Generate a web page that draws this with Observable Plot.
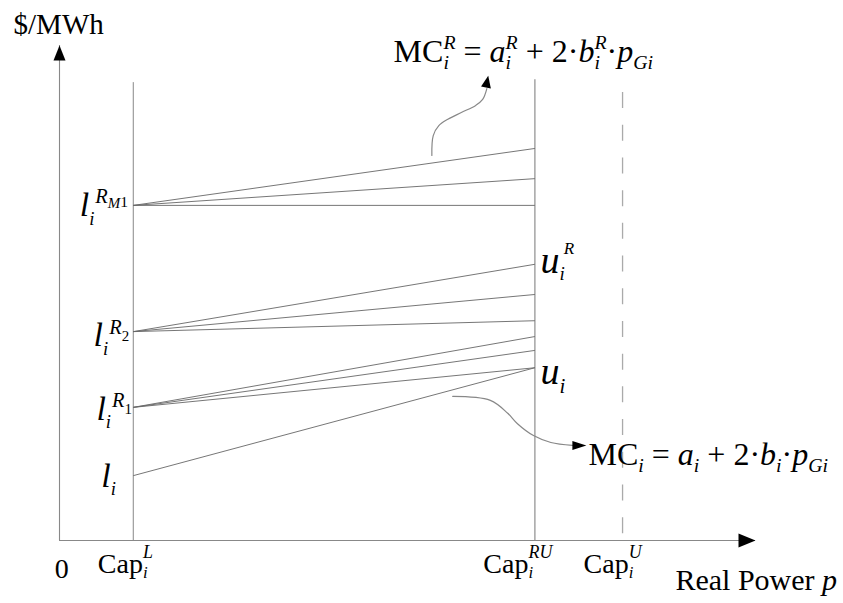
<!DOCTYPE html>
<html><head><meta charset="utf-8">
<script src="https://cdn.jsdelivr.net/npm/d3@7"></script>
<script src="https://cdn.jsdelivr.net/npm/@observablehq/plot@0.6"></script>
<style>body{margin:0;background:#fff} svg{display:block}</style>
</head><body><div id="chart"></div>
<script>
// x: real power (schematic units 0..100 along the axis), y: $/MWh (0..100)
const capKeys = ["capL", "capRU", "capU"];
const capX = [10.6, 68.3, 80.9];
const capTop = [92.5, 93.1, 90.5];

// offer segments from Cap^L to Cap^RU
const segStartY = [67.7, 67.7, 67.7, 42.2, 42.2, 42.2, 26.9, 26.9, 26.9, 13.1];
const segEndY   = [79.2, 73.1, 67.7, 55.8, 49.7, 44.4, 41.2, 38.4, 34.9, 34.9];

// annotation curves
const upperCurveX = [53.5, 53.7, 54.5, 55.8, 57.8, 59.8, 60.8, 61.4];
const upperCurveY = [77.8, 81.8, 83.8, 85.1, 86.5, 87.9, 89.1, 91.3];
const upperTip = {x: 61.6, y: 93.9};
const lowerCurveX = [56.5, 61.9, 64.4, 65.8, 68.1, 70.6, 73.7];
const lowerCurveY = [29.1, 28.3, 25.7, 23.6, 21.2, 19.8, 19.2];
const lowerTip = {x: 75.7, y: 19.2};

// text labels (baseline-left anchors)
const labelKeys = ["ylab", "xlab", "zero", "capL", "capRU", "capU", "lRM1", "lR2", "lR1", "li", "uR", "ui", "MCR", "MC"];
const labelX = [-6.6, 88.5, -0.7, 5.5, 60.9, 75.3, 2.9, 4.9, 5.3, 6.0, 69.1, 69.1, 48.0, 76.0];
const labelY = [102.4, -10.1, -7.5, -6.5, -6.5, -6.5, 65.5, 39.2, 24.4, 10.9, 54.1, 31.7, 96.6, 15.2];

const NB = "\u00A0";
const sub = (t, sz = .62, sh = .22) => ({t, it: 1, sz, sh});
const sup = (t, sz = .62, sh = -.42) => ({t, it: 1, sz, sh, back: 1});
const supSeq = (t, sz, sh) => ({t, it: 1, sz, sh, dx: 1});
const formulas = {
  ylab: {size: 29, pieces: [{t: "$/MWh"}]},
  xlab: {size: 30, pieces: [{t: "Real Power" + NB}, {t: "p", it: 1}]},
  zero: {size: 28, pieces: [{t: "0"}]},
  capL: {size: 28, pieces: [{t: "Cap"}, sub("i", .6, .2), sup("L", .64, -.52)]},
  capRU: {size: 28, pieces: [{t: "Cap"}, sub("i", .6, .2), sup("RU", .64, -.52)]},
  capU: {size: 28, pieces: [{t: "Cap"}, sub("i", .6, .2), sup("U", .64, -.52)]},
  lRM1: {size: 34, pieces: [{t: "l", it: 1}, sub("i", .55, .25), supSeq("R", .6, -.38), {t: "M", it: 1, sz: .44, sh: -.24}, {t: "1", sz: .46, sh: -.28}]},
  lR2: {size: 34, pieces: [{t: "l", it: 1}, sub("i", .55, .25), supSeq("R", .6, -.38), {t: "2", sz: .44, sh: -.16}]},
  lR1: {size: 34, pieces: [{t: "l", it: 1}, sub("i", .55, .25), supSeq("R", .6, -.38), {t: "1", sz: .44, sh: -.16}]},
  li: {size: 34, pieces: [{t: "l", it: 1}, sub("i", .55, .25)]},
  uR: {size: 38, pieces: [{t: "u", it: 1}, sub("i", .5, .2), {t: "R", it: 1, sz: .45, sh: -.5, dx: -1}]},
  ui: {size: 38, pieces: [{t: "u", it: 1}, sub("i", .55, .25)]},
  MCR: {size: 32, pieces: [{t: "MC"}, sub("i"), sup("R"), {t: NB + "=" + NB}, {t: "a", it: 1}, sub("i"), sup("R"),
        {t: NB + "+" + NB + "2·"}, {t: "b", it: 1}, sub("i"), sup("R"), {t: "·"}, {t: "p", it: 1}, sub("Gi")]},
  MC: {size: 32, pieces: [{t: "MC"}, sub("i"), {t: NB + "=" + NB}, {t: "a", it: 1}, sub("i"),
        {t: NB + "+" + NB + "2·"}, {t: "b", it: 1}, sub("i"), {t: "·"}, {t: "p", it: 1}, sub("Gi")]}
};

function head(angle, len, hw) {
  const a = angle * Math.PI / 180, c = Math.cos(a), s = Math.sin(a);
  return {draw(ctx) {
    const bx = -len * c, by = -len * s;
    ctx.moveTo(0, 0);
    ctx.lineTo(bx - hw * s, by + hw * c);
    ctx.lineTo(bx + hw * s, by - hw * c);
    ctx.closePath();
  }};
}

const segs = segStartY.map((y1, i) => ({x1: capX[0], y1, x2: capX[1], y2: segEndY[i]}));
const caps = capKeys.map((k, i) => ({k, x: capX[i], top: capTop[i]}));
const upper = upperCurveX.map((x, i) => ({x, y: upperCurveY[i]}));
const lower = lowerCurveX.map((x, i) => ({x, y: lowerCurveY[i]}));
const labels = labelKeys.map((k, i) => ({k, x: labelX[i], y: labelY[i]}));

const svg = Plot.plot({
  width: 843, height: 603,
  x: {domain: [0, 100], range: [59, 755], axis: null},
  y: {domain: [0, 100], range: [540, 45], axis: null},
  style: {background: "#fff", fontFamily: "Liberation Serif", color: "#000"},
  marks: [
    Plot.ruleY([0], {x1: 0, x2: 100, stroke: "#888", strokeWidth: 1.1}),
    Plot.ruleX([0], {y1: 0, y2: 100, stroke: "#888", strokeWidth: 1.1}),
    Plot.ruleX(caps.filter(d => d.k === "capL"), {x: "x", y1: "top", y2: 0, stroke: "#888", strokeWidth: 1}),
    Plot.ruleX(caps.filter(d => d.k === "capRU"), {x: "x", y1: "top", y2: 0, stroke: "#aaa", strokeWidth: 1.6}),
    Plot.ruleX(caps.filter(d => d.k === "capU"), {x: "x", y1: "top", y2: 0, stroke: "#aaa", strokeWidth: 1.3, strokeDasharray: "16,16.7"}),
    Plot.link(segs, {x1: "x1", y1: "y1", x2: "x2", y2: "y2", stroke: "#666", strokeWidth: 0.9}),
    Plot.line(upper, {x: "x", y: "y", curve: "catmull-rom", stroke: "#888", strokeWidth: 1.2}),
    Plot.line(lower, {x: "x", y: "y", curve: "catmull-rom", stroke: "#888", strokeWidth: 1.2}),
    Plot.dot([{x: 0, y: 100}], {x: "x", y: "y", symbol: head(-90, 15, 6), fill: "#000", stroke: "none"}),
    Plot.dot([{x: 100, y: 0}], {x: "x", y: "y", symbol: head(0, 17, 7), fill: "#000", stroke: "none"}),
    Plot.dot([upperTip], {x: "x", y: "y", symbol: head(-79, 12, 5), fill: "#000", stroke: "none"}),
    Plot.dot([lowerTip], {x: "x", y: "y", symbol: head(0, 14, 4.5), fill: "#000", stroke: "none"}),
    Plot.text(labels, {x: "x", y: "y", text: "k", textAnchor: "start", lineAnchor: "bottom", fontFamily: "Liberation Serif", fontSize: 29, fill: "#000"})
  ]
});
document.getElementById("chart").appendChild(svg);

// turn label keys into rich text with sub/superscripts
for (const text of svg.querySelectorAll("text")) {
  const f = formulas[text.textContent];
  if (!f) continue;
  const S = f.size;
  text.textContent = "";
  let cur = 0, prevLen = 0;
  for (const p of f.pieces) {
    const ts = document.createElementNS("http://www.w3.org/2000/svg", "tspan");
    const sz = (p.sz || 1) * S, sh = (p.sh || 0) * S;
    ts.setAttribute("font-size", sz);
    ts.setAttribute("font-style", p.it ? "italic" : "normal");
    ts.setAttribute("dy", sh - cur);
    cur = sh;
    if (p.back) ts.setAttribute("dx", -prevLen);
    else if (p.dx) ts.setAttribute("dx", p.dx);
    ts.textContent = p.t;
    text.appendChild(ts);
    prevLen = ts.getComputedTextLength();
  }
}
</script></body></html>
